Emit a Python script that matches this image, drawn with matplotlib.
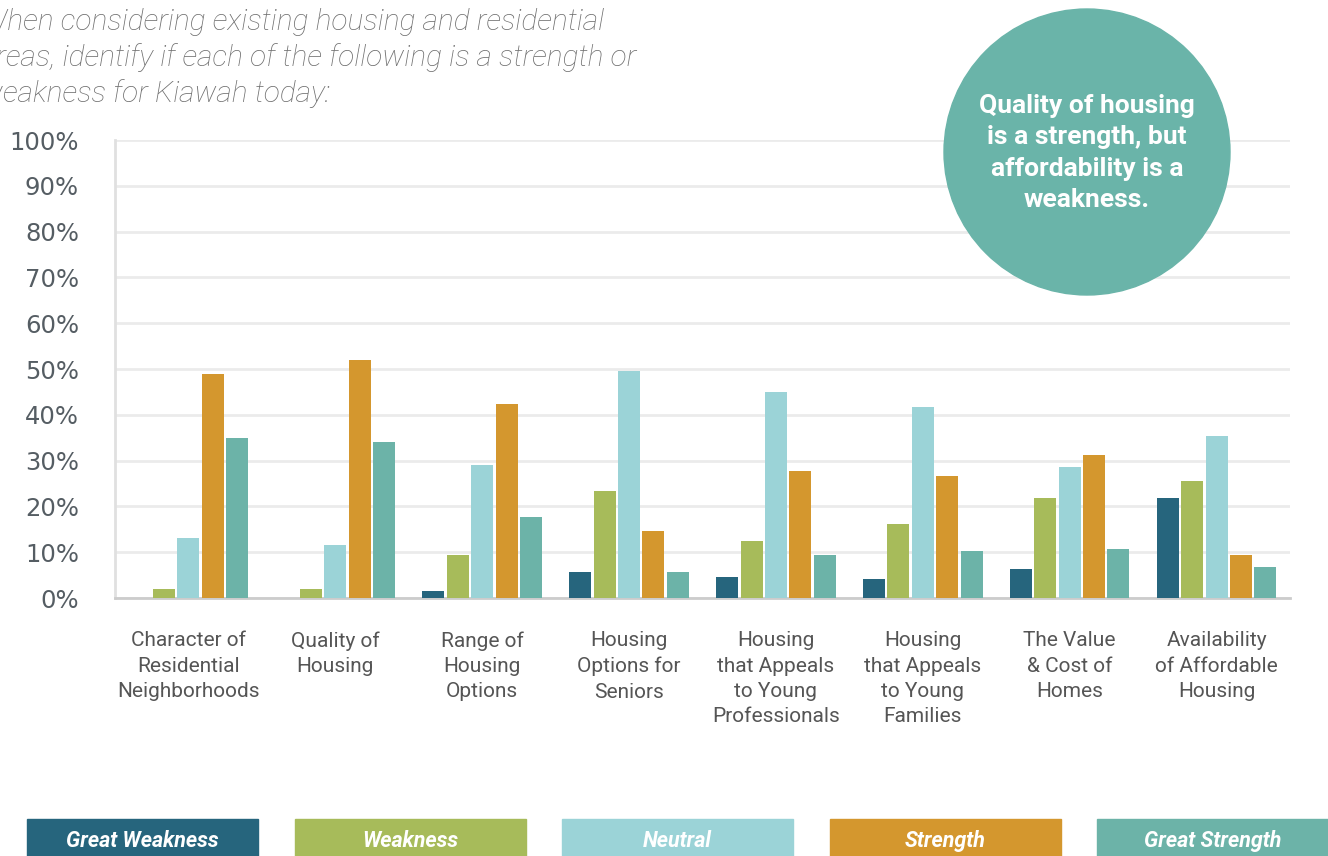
import matplotlib.pyplot as plt
from matplotlib.patches import Circle, Rectangle
import numpy as np

# survey results (% of respondents)
categories = ["Character of\nResidential\nNeighborhoods", "Quality of\nHousing",
              "Range of\nHousing\nOptions", "Housing\nOptions for\nSeniors",
              "Housing\nthat Appeals\nto Young\nProfessionals",
              "Housing\nthat Appeals\nto Young\nFamilies",
              "The Value\n& Cost of\nHomes", "Availability\nof Affordable\nHousing"]
great_weakness = [0, 0, 1.5, 5.7, 4.6, 4.1, 6.3, 21.8]
weakness = [2, 2, 9.4, 23.4, 12.4, 16.2, 21.8, 25.5]
neutral = [13, 11.5, 29, 49.6, 45, 41.8, 28.7, 35.4]
strength = [49, 52, 42.4, 14.6, 27.7, 26.6, 31.3, 9.3]
great_strength = [35, 34, 17.7, 5.7, 9.4, 10.3, 10.8, 6.7]

series = ["Great Weakness", "Weakness", "Neutral", "Strength", "Great Strength"]
colors = ["#26657d", "#a7bb5a", "#9bd3d7", "#d4972e", "#6cb3a8"]
values = [great_weakness, weakness, neutral, strength, great_strength]
yticks = [0, 10, 20, 30, 40, 50, 60, 70, 80, 90, 100]

fig = plt.figure(figsize=(13.28, 8.56), dpi=100)
ax = fig.add_axes([115 / 1328, 1 - 598 / 856, 1175 / 1328, 458 / 856])

x = np.arange(len(categories))
pitch = 0.166
for i, (name, vals, col) in enumerate(zip(series, values, colors)):
    ax.bar(x + (i - 2) * pitch, vals, width=0.15, color=col, zorder=3)

ax.set_xlim(-0.5, len(categories) - 0.5)
ax.set_ylim(0, 100)
ax.set_yticks(yticks)
ax.set_yticklabels([f"{v}%" for v in yticks], fontsize=17.5, color="#555d63",
                   family="DejaVu Sans")
ax.set_xticks(x)
ax.set_xticklabels(categories, fontsize=15, color="#555555", family="Roboto",
                   linespacing=1.42, va="top")
ax.tick_params(axis="both", length=0)
ax.tick_params(axis="x", pad=24)
ax.tick_params(axis="y", pad=26)
ax.grid(axis="y", color="#ebebeb", lw=2, zorder=0)
for s in ["top", "right"]:
    ax.spines[s].set_visible(False)
ax.spines["left"].set_color("#e0e0e0")
ax.spines["left"].set_linewidth(2)
ax.spines["bottom"].set_color("#cccccc")
ax.spines["bottom"].set_linewidth(2)

# question text (clipped at left like the source)
fig.text(-0.014, 1 - 8 / 856,
         "When considering existing housing and residential\n"
         "areas, identify if each of the following is a strength or\n"
         "weakness for Kiawah today:",
         fontsize=21.5, style="italic", fontweight="light", family="Roboto",
         color="#6e6e6e", va="top", ha="left", linespacing=1.32)

# callout bubble
fig.patches.append(Circle((10.87, 8.56 - 1.52), 1.43, transform=fig.dpi_scale_trans,
                          color="#6ab4a9", zorder=5))
fig.text(1087 / 1328, 1 - 153 / 856,
         "Quality of housing\nis a strength, but\naffordability is a\nweakness.",
         ha="center", va="center", color="white", fontsize=19, fontweight="bold",
         family="Roboto", linespacing=1.4, zorder=6)

# legend boxes
for i, (name, col) in enumerate(zip(series, colors)):
    x0 = 27 + i * 267.5
    fig.patches.append(Rectangle((x0 / 1328, 0), 231 / 1328, 37 / 856,
                                 transform=fig.transFigure, color=col, zorder=5))
    fig.text((x0 + 115.5) / 1328, 1 - 841 / 856, name, ha="center", va="center",
             color="white", fontsize=15.5, fontweight="bold", style="italic",
             family="Roboto", zorder=6)

fig.savefig("out.png", dpi=100)
